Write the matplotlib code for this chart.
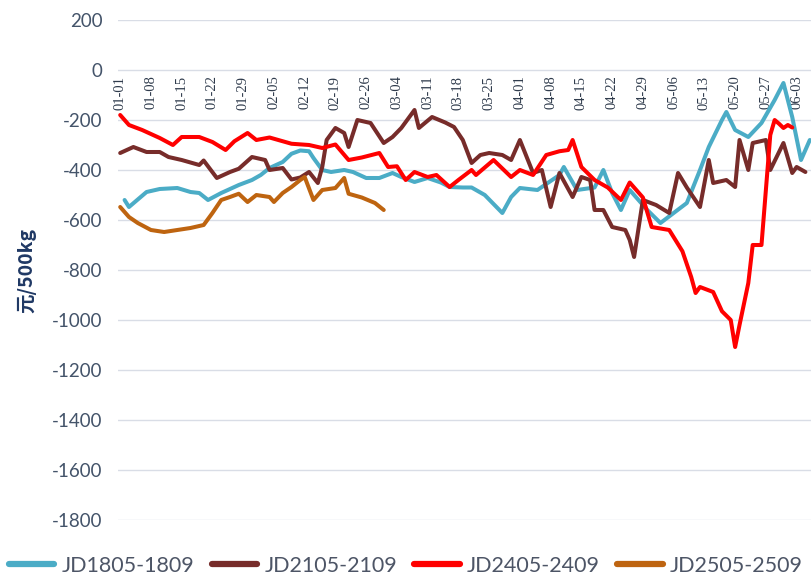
import matplotlib
matplotlib.use('Agg')
import matplotlib.pyplot as plt

plt.rcParams['axes.unicode_minus'] = False

# ---------------- data ----------------
tick_labels = ['01-01', '01-08', '01-15', '01-22', '01-29', '02-05', '02-12', '02-19',
               '02-26', '03-04', '03-11', '03-18', '03-25', '04-01', '04-08', '04-15',
               '04-22', '04-29', '05-06', '05-13', '05-20', '05-27', '06-03']

series_names = ['JD1805-1809', 'JD2105-2109', 'JD2405-2409', 'JD2505-2509']

# day index counted from 01-01
jd1805_days = [1, 2, 6, 9, 13, 16, 18, 20, 23, 27, 30, 32, 34, 37, 39, 41, 43, 44, 46, 48,
               51, 53, 56, 59, 62, 64, 67, 70, 73, 75, 78, 80, 83, 87, 89, 91, 95, 100, 101,
               104, 108, 110, 112, 114, 116, 120, 123, 126, 129, 132, 134, 137, 138, 140,
               143, 146, 149, 151, 153, 155, 157]
jd1805_vals = [-520, -548, -488, -476, -472, -488, -492, -520, -492, -460, -440, -420, -392,
               -368, -335, -322, -325, -352, -400, -408, -400, -408, -432, -432, -412, -428,
               -448, -432, -450, -468, -470, -470, -500, -572, -508, -472, -480, -420, -388,
               -480, -470, -400, -492, -560, -480, -560, -612, -572, -532, -400, -308, -200,
               -168, -240, -268, -212, -120, -52, -188, -360, -280]

jd2105_days = [0, 3, 6, 9, 11, 14, 18, 19, 22, 25, 27, 30, 33, 34, 37, 39, 41, 43, 45, 46,
               47, 49, 51, 52, 54, 57, 60, 62, 64, 67, 68, 71, 74, 76, 78, 80, 82, 84, 87,
               89, 91, 94, 96, 98, 100, 103, 105, 107, 108, 110, 112, 115, 116, 117, 119,
               122, 125, 127, 129, 132, 134, 135, 138, 140, 141, 143, 144, 147, 148, 151,
               153, 154, 156]
jd2105_vals = [-332, -308, -328, -328, -348, -360, -380, -362, -432, -408, -395, -348, -360,
               -400, -392, -438, -430, -408, -452, -388, -280, -232, -252, -308, -200, -212,
               -292, -268, -232, -160, -232, -188, -210, -228, -280, -372, -340, -332, -340,
               -360, -280, -412, -400, -548, -412, -508, -428, -440, -560, -560, -628, -640,
               -680, -748, -520, -540, -572, -412, -470, -548, -360, -452, -440, -468, -280,
               -400, -292, -280, -400, -292, -412, -388, -408]

jd2405_days = [0, 2, 5, 9, 12, 14, 18, 21, 24, 26, 29, 31, 34, 36, 39, 43, 46, 49, 52, 55,
               59, 61, 63, 65, 67, 70, 72, 75, 77, 80, 81, 85, 89, 91, 94, 97, 100, 102, 103,
               105, 108, 111, 114, 116, 119, 121, 125, 128, 130, 131, 132, 135, 137, 139,
               140, 141, 143, 144, 146, 147, 148, 149, 150, 151, 152, 153]
jd2405_vals = [-180, -220, -240, -272, -300, -268, -268, -288, -320, -285, -252, -280, -270,
               -280, -295, -300, -312, -298, -360, -350, -332, -388, -385, -440, -408, -428,
               -420, -468, -440, -400, -420, -360, -428, -400, -420, -340, -325, -320, -280,
               -388, -440, -470, -520, -450, -510, -628, -640, -725, -828, -892, -868, -888,
               -965, -1000, -1108, -1020, -852, -700, -700, -480, -260, -200, -215, -232,
               -220, -230]

jd2505_days = [0, 2, 4, 7, 10, 13, 16, 19, 21, 23, 25, 27, 29, 31, 34, 35, 37, 39, 41, 42,
               44, 46, 49, 51, 52, 55, 58, 60]
jd2505_vals = [-548, -588, -612, -640, -648, -640, -632, -620, -572, -520, -508, -495, -528,
               -500, -508, -528, -492, -468, -440, -428, -520, -480, -472, -432, -495, -510,
               -532, -560]

colors = ['#4BACC6', '#772C2A', '#FF0000', '#BE6410']

# ---------------- figure ----------------
fig = plt.figure(figsize=(8.12, 5.79), dpi=100)
ax = fig.add_axes([118 / 812, 1 - 520 / 579, 694 / 812, 500 / 579])

for s in ax.spines.values():
    s.set_visible(False)
ax.spines['bottom'].set_position(('data', 0))

all_days = [jd1805_days, jd2105_days, jd2405_days, jd2505_days]
all_vals = [jd1805_vals, jd2105_vals, jd2405_vals, jd2505_vals]
for d, v, c, n in zip(all_days, all_vals, colors, series_names):
    ax.plot(d, v, color=c, lw=2.9, label=n, solid_joinstyle='round',
            solid_capstyle='round')

ax.set_xlim(-0.5, 157.5)
ax.set_ylim(-1800, 200)
ax.set_yticks(range(-1800, 201, 200))
ax.set_xticks([i * 7 for i in range(len(tick_labels))])
ax.set_xticklabels(tick_labels)
ax.tick_params(axis='x', length=0, pad=4, labelsize=10.5, labelrotation=90,
               labelcolor='#2F3B4C')
for lab in ax.get_xticklabels():
    lab.set_family('Liberation Serif')
ax.tick_params(axis='y', length=0, pad=11, labelsize=13.5, labelcolor='#44546A')
for lab in ax.get_yticklabels():
    lab.set_family('Lato')

ax.grid(axis='y', color='#D9DDE6', lw=1)
ax.set_axisbelow(True)

ax.set_ylabel('元/500kg', family=['Noto Sans CJK SC', 'DejaVu Sans'],
              fontsize=14, fontweight='bold', color='#1F3864')
ax.yaxis.set_label_coords(-0.118, 0.5)

leg = fig.legend(loc='center', bbox_to_anchor=(0.5, 1 - 566 / 579), ncol=4,
                 frameon=False, prop={'family': 'Lato', 'size': 15.5},
                 handlelength=2.1, handletextpad=0.35, columnspacing=0.8,
                 labelcolor='#4D5566')
for h in leg.get_lines():
    h.set_linewidth(4.5)
    h.set_solid_capstyle('round')

fig.savefig('out.png', dpi=100)
